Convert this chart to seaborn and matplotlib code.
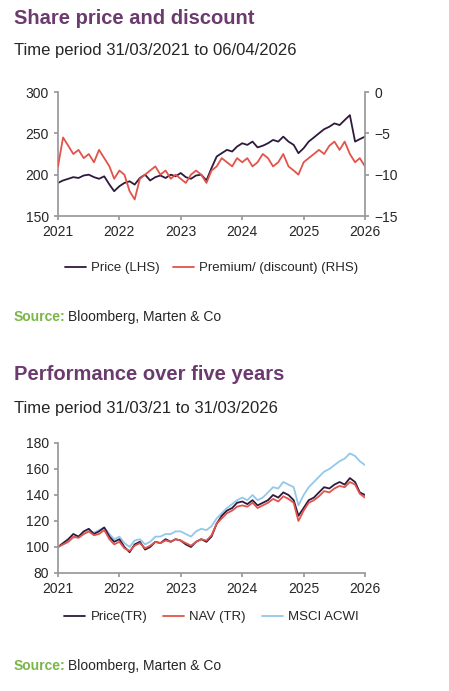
import numpy as np
import pandas as pd
import seaborn as sns
import matplotlib.pyplot as plt
import matplotlib.dates as mdates

# monthly points, Apr 2021 .. Apr 2026
dates = pd.date_range('2021-03-31', periods=61, freq='MS')

price = [190, 193, 195, 197, 196, 199, 200, 197, 195, 198, 188, 180,
         186, 190, 192, 188, 196, 200, 193, 197, 199, 196, 200, 198,
         202, 197, 195, 199, 200, 193, 208, 222, 226, 230, 228, 234,
         238, 236, 240, 233, 235, 238, 242, 240, 246, 240, 236, 226,
         232, 240, 245, 250, 255, 258, 262, 260, 266, 272, 240, 243, 246]

discount = [-9.0, -5.5, -6.5, -7.5, -7.0, -8.0, -7.5, -8.5, -7.0, -8.0, -9.0, -10.5,
            -9.5, -10.0, -12.0, -13.0, -10.5, -10.0, -9.5, -9.0, -10.0, -9.5, -10.5, -10.0,
            -10.5, -11.0, -10.0, -9.5, -10.0, -11.0, -9.5, -9.0, -8.0, -8.5, -9.0, -8.0,
            -8.5, -8.0, -9.0, -8.5, -7.5, -8.0, -9.0, -8.5, -7.5, -9.0, -9.5, -10.0,
            -8.5, -8.0, -7.5, -7.0, -7.5, -6.5, -6.0, -7.0, -6.0, -7.5, -8.5, -8.0, -9.0]

perf_dates = pd.date_range('2021-03-31', periods=61, freq='MS')
price_tr = [100, 103, 106, 110, 108, 112, 114, 110, 112, 115, 108, 104,
            106, 100, 96, 102, 104, 98, 100, 104, 103, 106, 104, 106,
            105, 102, 100, 104, 106, 104, 108, 118, 124, 128, 130, 134,
            135, 133, 136, 132, 134, 136, 140, 138, 142, 140, 136, 124,
            130, 136, 138, 142, 146, 145, 148, 150, 148, 153, 150, 142, 140]
nav_tr = [100, 102, 104, 108, 107, 110, 112, 109, 110, 113, 106, 102,
          104, 99, 97, 101, 103, 99, 101, 104, 103, 105, 104, 106,
          105, 103, 101, 104, 106, 105, 109, 118, 122, 126, 128, 131,
          132, 131, 134, 130, 132, 134, 137, 135, 139, 137, 134, 120,
          128, 134, 136, 139, 143, 142, 145, 147, 146, 150, 148, 141, 138]
msci = [100, 102, 104, 107, 108, 110, 112, 111, 113, 115, 110, 106,
        108, 103, 100, 105, 106, 102, 104, 108, 108, 110, 110, 112,
        112, 110, 108, 112, 114, 113, 116, 122, 126, 130, 133, 136,
        138, 136, 140, 136, 138, 142, 146, 145, 150, 148, 146, 132,
        140, 146, 150, 154, 158, 160, 163, 166, 168, 172, 170, 166, 163]

year_labels = ['2021', '2022', '2023', '2024', '2025', '2026']

purple = '#6b3a6e'
green = '#7ab648'
dark = '#2e1a3c'
red = '#e2544b'
blue = '#93c8ea'

sns.set_theme(style='white')
plt.rcParams['font.family'] = ['Liberation Sans', 'DejaVu Sans']

fig = plt.figure(figsize=(4.49, 6.91), dpi=100)
W, H = 449, 691


def fx(px):
    return px / W


def fy(py):
    return 1 - py / H


def style_axis(ax, d):
    for s in ['top', 'right']:
        ax.spines[s].set_visible(False)
    for s in ['left', 'bottom']:
        ax.spines[s].set_color('#999999')
    ax.tick_params(labelsize=10, length=3, color='#999999', left=True, bottom=True)
    # the reference spreads its year labels evenly over the plotted span
    ticks = [d[0] + pd.DateOffset(years=k) for k in range(6)]
    ticks[-1] = d[-1]
    ax.set_xticks(ticks)
    ax.set_xticklabels(year_labels)
    ax.set_xlim(d[0], d[-1])
    ax.set_xlabel('')
    ax.set_ylabel('')


# ---- top panel
fig.text(fx(14), fy(19), 'Share price and discount', color=purple, fontsize=14.5,
         fontweight='bold', va='center')
fig.text(fx(14), fy(51), 'Time period 31/03/2021 to 06/04/2026', fontsize=12, va='center')

ax1 = fig.add_axes([fx(58), fy(216), fx(365 - 58), (216 - 92) / H])
df1 = pd.DataFrame({'date': dates, 'price': price, 'discount': discount})
sns.lineplot(data=df1, x='date', y='price', ax=ax1, color=dark, lw=1.3, label='Price (LHS)')
ax1.set_ylim(150, 300)
ax1.set_yticks([150, 200, 250, 300])
ax1b = ax1.twinx()
sns.lineplot(data=df1, x='date', y='discount', ax=ax1b, color=red, lw=1.3,
             label='Premium/ (discount) (RHS)')
ax1b.set_ylim(-15, 0)
ax1b.set_yticks([-15, -10, -5, 0])
style_axis(ax1, dates)
ax1b.set_ylabel('')
for s in ['top', 'left', 'bottom']:
    ax1b.spines[s].set_visible(False)
ax1b.spines['right'].set_color('#999999')
ax1b.tick_params(labelsize=10, length=3, color='#999999', right=True)
h1, l1 = ax1.get_legend_handles_labels()
h2, l2 = ax1b.get_legend_handles_labels()
ax1.get_legend().remove()
ax1b.get_legend().remove()
ax1.legend(h1 + h2, l1 + l2, loc='center', bbox_to_anchor=(0.5, -0.42), ncol=2,
           frameon=False, fontsize=9.5, handlelength=1.6, columnspacing=1.0, handletextpad=0.4)

fig.text(fx(14), fy(317), 'Source:', color=green, fontsize=10, fontweight='bold', va='center')
fig.text(fx(68), fy(317), 'Bloomberg, Marten & Co', fontsize=10, va='center')

# ---- bottom panel
fig.text(fx(14), fy(374), 'Performance over five years', color=purple, fontsize=14.5,
         fontweight='bold', va='center')
fig.text(fx(14), fy(408), 'Time period 31/03/21 to 31/03/2026', fontsize=12, va='center')

ax2 = fig.add_axes([fx(58), fy(573), fx(365 - 58), (573 - 443) / H])
df2 = pd.DataFrame({'date': perf_dates, 'Price(TR)': price_tr, 'NAV (TR)': nav_tr,
                    'MSCI ACWI': msci}).melt('date', var_name='series', value_name='value')
sns.lineplot(data=df2, x='date', y='value', hue='series', ax=ax2, lw=1.3,
             hue_order=['MSCI ACWI', 'Price(TR)', 'NAV (TR)'],
             palette={'Price(TR)': dark, 'NAV (TR)': red, 'MSCI ACWI': blue})
ax2.set_ylim(80, 180)
ax2.set_yticks([80, 100, 120, 140, 160, 180])
style_axis(ax2, perf_dates)
h, l = ax2.get_legend_handles_labels()
order = [l.index(x) for x in ['Price(TR)', 'NAV (TR)', 'MSCI ACWI']]
ax2.legend([h[i] for i in order], [l[i] for i in order], loc='center',
           bbox_to_anchor=(0.5, -0.34), ncol=3, frameon=False, fontsize=9.5,
           handlelength=1.6, columnspacing=1.2, handletextpad=0.4)

fig.text(fx(14), fy(666), 'Source:', color=green, fontsize=10, fontweight='bold', va='center')
fig.text(fx(68), fy(666), 'Bloomberg, Marten & Co', fontsize=10, va='center')

fig.savefig('out.png', dpi=100)
